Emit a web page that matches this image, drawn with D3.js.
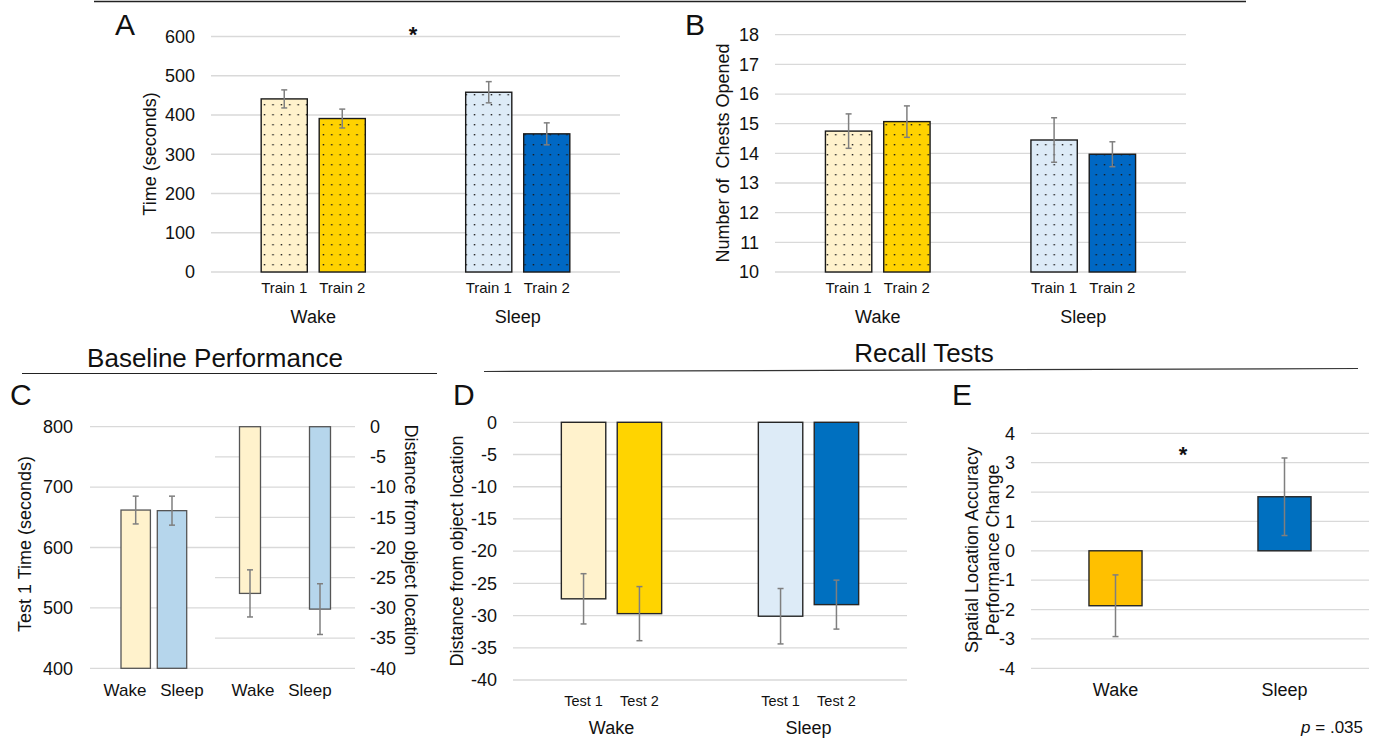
<!DOCTYPE html>
<html>
<head>
<meta charset="utf-8">
<style>
  body { margin: 0; background: #fff; }
  svg text { font-family: "Liberation Sans", Arial, sans-serif; fill: #111; }
</style>
</head>
<body>
<svg width="1381" height="739"></svg>
<script src="https://d3js.org/d3.v7.min.js"></script>
<script>
  // ---- data ----
  const groups = ["Wake", "Sleep"];
  const trainSessions = ["Train 1", "Train 2"];
  const testSessions = ["Test 1", "Test 2"];

  // A: time to complete training (s)
  const timeMeans = [[441, 391], [458, 352]];
  const timeErr = [[23, 24], [27, 28]];
  const timeTicks = [0, 100, 200, 300, 400, 500, 600];

  // B: chests opened
  const chestMeans = [[14.75, 15.07], [14.45, 13.97]];
  const chestErr = [[0.58, 0.53], [0.75, 0.42]];
  const chestTicks = [10, 11, 12, 13, 14, 15, 16, 17, 18];

  // C: baseline
  const baseTimeMeans = [662, 661];
  const baseTimeErr = [23, 24];
  const baseTimeTicks = [400, 500, 600, 700, 800];
  const baseDistMeans = [-27.6, -30.2];
  const baseDistErr = [3.9, 4.2];
  const distTicks = [0, -5, -10, -15, -20, -25, -30, -35, -40];

  // D: recall distance
  const recallMeans = [[-27.4, -29.7], [-30.1, -28.3]];
  const recallErr = [[3.9, 4.2], [4.3, 3.8]];

  // E: performance change
  const changeMeans = [-1.87, 1.84];
  const changeErr = [1.05, 1.32];
  const changeTicks = [4, 3, 2, 1, 0, -1, -2, -3, -4];

  const colorsA = [["#FFF2CC", "#FFD200"], ["#DDEBF7", "#0068C4"]];
  const colorsD = [["#FFF2CC", "#FFD400"], ["#DDEBF7", "#0070C0"]];
  const colorsC = ["#FFF2CC", "#B6D6EC"];
  const colorsE = ["#FFC000", "#0070C0"];

  const svg = d3.select("svg");
  const defs = svg.append("defs");
  const gridColor = "#D9D9D9";
  const errColor = "#7F7F7F";

  // dotted fills for panels A and B
  function dotPattern(color, id) {
    const p = defs.append("pattern")
      .attr("id", id)
      .attr("patternUnits", "userSpaceOnUse")
      .attr("width", 8.4).attr("height", 10);
    p.append("rect").attr("width", 8.4).attr("height", 10).attr("fill", color);
    p.append("rect").attr("x", 3.5).attr("y", 4).attr("width", 1.4).attr("height", 1.4).attr("fill", "#1a1a1a");
    return "url(#" + id + ")";
  }

  function yAxis(g, y, ticks, x, side, pad) {
    const ax = (side === "left" ? d3.axisLeft(y) : d3.axisRight(y))
      .tickValues(ticks).tickSize(0).tickPadding(pad).tickFormat((d) => String(d));
    const a = g.append("g").attr("transform", "translate(" + x + ",0)").call(ax);
    a.select(".domain").remove();
    a.selectAll("text").style("font-size", "18px").attr("fill", "#111")
      .style("font-family", '"Liberation Sans", Arial, sans-serif');
  }

  function grid(g, y, ticks, x1, x2) {
    g.append("g").selectAll("line").data(ticks).join("line")
      .attr("x1", x1).attr("x2", x2)
      .attr("y1", (d) => y(d)).attr("y2", (d) => y(d))
      .attr("stroke", gridColor).attr("stroke-width", 1.3);
  }

  function errBars(g, rows, cap) {
    const e = g.append("g").attr("stroke", errColor).attr("stroke-width", 1.5);
    e.selectAll("line.v").data(rows).join("line").attr("class", "v")
      .attr("x1", (d) => d.cx).attr("x2", (d) => d.cx)
      .attr("y1", (d) => d.yHi).attr("y2", (d) => d.yLo);
    e.selectAll("line.t").data(rows).join("line").attr("class", "t")
      .attr("x1", (d) => d.cx - cap).attr("x2", (d) => d.cx + cap)
      .attr("y1", (d) => d.yHi).attr("y2", (d) => d.yHi);
    e.selectAll("line.b").data(rows).join("line").attr("class", "b")
      .attr("x1", (d) => d.cx - cap).attr("x2", (d) => d.cx + cap)
      .attr("y1", (d) => d.yLo).attr("y2", (d) => d.yLo);
  }

  function yTitle(lines, x, y, rot, lineGap) {
    const t = svg.append("text")
      .attr("transform", "translate(" + x + "," + y + ") rotate(" + rot + ")")
      .attr("text-anchor", "middle").style("font-size", "18px").style("white-space", "pre");
    lines.forEach((s, i) => {
      t.append("tspan").attr("x", 0).attr("y", (i - (lines.length - 1) / 2) * lineGap).attr("dy", "0.35em").text(s);
    });
  }

  function letter(s, x, y) {
    svg.append("text").attr("x", x).attr("y", y).style("font-size", "30px").text(s);
  }

  // grouped bar panel (A, B, D)
  function groupedPanel(o) {
    const g = svg.append("g");
    const y = d3.scaleLinear().domain(o.domain).range([o.bottom, o.top]);
    const xg = d3.scaleBand().domain(groups).range([o.left, o.right]);
    const xs = d3.scaleBand().domain(o.sessions).range([0, xg.bandwidth()])
      .paddingInner(0.205).paddingOuter(0.865);
    grid(g, y, o.ticks, o.left, o.right);
    yAxis(g, y, o.ticks, o.left, "left", 16);

    const rows = [];
    groups.forEach((grp, gi) => {
      o.sessions.forEach((s, si) => {
        const v = o.means[gi][si], e = o.errs[gi][si];
        const x = xg(grp) + xs(s);
        rows.push({
          x: x, cx: x + xs.bandwidth() / 2, w: xs.bandwidth(),
          y0: y(o.base), y1: y(v), yHi: y(v + e), yLo: y(v - e),
          fill: o.fills[gi][si], label: s, grp: grp
        });
      });
    });
    g.append("g").selectAll("rect").data(rows).join("rect")
      .attr("x", (d) => d.x).attr("width", (d) => d.w)
      .attr("y", (d) => Math.min(d.y0, d.y1)).attr("height", (d) => Math.abs(d.y1 - d.y0))
      .attr("fill", (d) => d.fill).attr("stroke", o.stroke).attr("stroke-width", 1.4);
    errBars(g, rows, 3);

    g.append("g").selectAll("text").data(rows).join("text")
      .attr("x", (d) => d.cx).attr("y", o.sessY).attr("text-anchor", "middle")
      .style("font-size", o.sessFont).text((d) => d.label);
    g.append("g").selectAll("text").data(groups).join("text")
      .attr("x", (d) => xg(d) + xg.bandwidth() / 2).attr("y", o.grpY).attr("text-anchor", "middle")
      .style("font-size", "18px").text((d) => d);
    return { y: y, xg: xg };
  }

  // ---- frame lines and headings ----
  svg.append("line").attr("x1", 94).attr("x2", 1246).attr("y1", 1.5).attr("y2", 1.5)
    .attr("stroke", "#222").attr("stroke-width", 1.3);
  svg.append("text").attr("x", 215).attr("y", 367).attr("text-anchor", "middle")
    .style("font-size", "26px").text("Baseline Performance");
  svg.append("line").attr("x1", 22).attr("x2", 437).attr("y1", 373.5).attr("y2", 373.5)
    .attr("stroke", "#222").attr("stroke-width", 1.2);
  svg.append("text").attr("x", 924).attr("y", 362).attr("text-anchor", "middle")
    .style("font-size", "26px").text("Recall Tests");
  svg.append("line").attr("x1", 484).attr("x2", 1358).attr("y1", 371.5).attr("y2", 368.5)
    .attr("stroke", "#333").attr("stroke-width", 1.2);

  // ---- A ----
  const fillsA = colorsA.map((r, i) => r.map((c, j) => dotPattern(c, "pa" + i + j)));
  groupedPanel({
    left: 211, right: 620, top: 36.5, bottom: 272, domain: [0, 600], base: 0,
    ticks: timeTicks, sessions: trainSessions, means: timeMeans, errs: timeErr,
    fills: fillsA, stroke: "#1a1a1a", sessY: 293, grpY: 323, sessFont: "15px"
  });
  letter("A", 115, 35);
  yTitle(["Time (seconds)"], 150, 154, -90, 0);
  svg.append("text").attr("x", 413).attr("y", 42).attr("text-anchor", "middle")
    .style("font-size", "22px").style("font-weight", "bold").text("*");

  // ---- B ----
  const fillsB = colorsA.map((r, i) => r.map((c, j) => dotPattern(c, "pb" + i + j)));
  groupedPanel({
    left: 775, right: 1186, top: 34.7, bottom: 272, domain: [10, 18], base: 10,
    ticks: chestTicks, sessions: trainSessions, means: chestMeans, errs: chestErr,
    fills: fillsB, stroke: "#1a1a1a", sessY: 293, grpY: 323, sessFont: "15px"
  });
  letter("B", 685, 35);
  yTitle(["Number of  Chests Opened"], 723, 153, -90, 0);

  // ---- C ----
  {
    const g = svg.append("g");
    const yL = d3.scaleLinear().domain([400, 800]).range([668.3, 426.7]);
    const yR = d3.scaleLinear().domain([-40, 0]).range([668.3, 426.7]);
    grid(g, yL, baseTimeTicks, 90, 215);
    grid(g, yR, distTicks, 215, 355);
    yAxis(g, yL, baseTimeTicks, 90, "left", 17);
    yAxis(g, yR, distTicks, 355, "right", 15);

    const xL = d3.scaleBand().domain(groups).range([121, 186.7]).paddingInner(0.19);
    const xR = d3.scaleBand().domain(groups).range([215, 355]).paddingInner(0.7).paddingOuter(0.35);
    const rowsL = groups.map((grp, i) => ({
      x: xL(grp), w: xL.bandwidth(), cx: xL(grp) + xL.bandwidth() / 2,
      y0: yL(400), y1: yL(baseTimeMeans[i]),
      yHi: yL(baseTimeMeans[i] + baseTimeErr[i]), yLo: yL(baseTimeMeans[i] - baseTimeErr[i]), fill: colorsC[i]
    }));
    const rowsR = groups.map((grp, i) => ({
      x: xR(grp), w: xR.bandwidth(), cx: xR(grp) + xR.bandwidth() / 2,
      y0: yR(0), y1: yR(baseDistMeans[i]),
      yHi: yR(baseDistMeans[i] + baseDistErr[i]), yLo: yR(baseDistMeans[i] - baseDistErr[i]), fill: colorsC[i]
    }));
    const all = rowsL.concat(rowsR);
    g.append("g").selectAll("rect").data(all).join("rect")
      .attr("x", (d) => d.x).attr("width", (d) => d.w)
      .attr("y", (d) => Math.min(d.y0, d.y1)).attr("height", (d) => Math.abs(d.y1 - d.y0))
      .attr("fill", (d) => d.fill).attr("stroke", "#555").attr("stroke-width", 1.3);
    errBars(g, all, 3);

    const labL = d3.scalePoint().domain(groups).range([125, 182]);
    const labR = d3.scalePoint().domain(groups).range([253, 310]);
    g.append("g").selectAll("text").data(groups).join("text")
      .attr("x", (d) => labL(d)).attr("y", 696).attr("text-anchor", "middle")
      .style("font-size", "17px").text((d) => d);
    g.append("g").selectAll("text").data(groups).join("text")
      .attr("x", (d) => labR(d)).attr("y", 696).attr("text-anchor", "middle")
      .style("font-size", "17px").text((d) => d);
  }
  letter("C", 10, 405);
  yTitle(["Test 1 Time (seconds)"], 25, 544, -90, 0);
  yTitle(["Distance from object location"], 411, 540, 90, 0);

  // ---- D ----
  groupedPanel({
    left: 513, right: 907, top: 422.3, bottom: 680, domain: [-40, 0], base: 0,
    ticks: distTicks, sessions: testSessions, means: recallMeans, errs: recallErr,
    fills: colorsD, stroke: "#262626", sessY: 706, grpY: 734, sessFont: "14.5px"
  });
  letter("D", 453, 405);
  yTitle(["Distance from object location"], 457, 551, -90, 0);

  // ---- E ----
  {
    const g = svg.append("g");
    const y = d3.scaleLinear().domain([-4, 4]).range([668.3, 433.3]);
    const x = d3.scaleBand().domain(groups).range([1031, 1369]).paddingInner(0.686).paddingOuter(0.343);
    grid(g, y, changeTicks, 1031, 1369);
    yAxis(g, y, changeTicks, 1031, "left", 16);
    const rows = groups.map((grp, i) => ({
      x: x(grp), w: x.bandwidth(), cx: x(grp) + x.bandwidth() / 2,
      y0: y(0), y1: y(changeMeans[i]),
      yHi: y(changeMeans[i] + changeErr[i]), yLo: y(changeMeans[i] - changeErr[i]), fill: colorsE[i]
    }));
    g.append("g").selectAll("rect").data(rows).join("rect")
      .attr("x", (d) => d.x).attr("width", (d) => d.w)
      .attr("y", (d) => Math.min(d.y0, d.y1)).attr("height", (d) => Math.abs(d.y1 - d.y0))
      .attr("fill", (d) => d.fill).attr("stroke", "#262626").attr("stroke-width", 1.4);
    errBars(g, rows, 3);
    g.append("g").selectAll("text").data(groups).join("text")
      .attr("x", (d) => x(d) + x.bandwidth() / 2).attr("y", 696).attr("text-anchor", "middle")
      .style("font-size", "18px").text((d) => d);
  }
  letter("E", 952, 405);
  yTitle(["Spatial Location Accuracy", "Performance Change"], 982, 550, -90, 21.5);
  svg.append("text").attr("x", 1183).attr("y", 462).attr("text-anchor", "middle")
    .style("font-size", "22px").style("font-weight", "bold").text("*");
  const p = svg.append("text").attr("x", 1363).attr("y", 733).attr("text-anchor", "end").style("font-size", "17px");
  p.append("tspan").style("font-style", "italic").text("p");
  p.append("tspan").text(" = .035");
</script>
</body>
</html>
